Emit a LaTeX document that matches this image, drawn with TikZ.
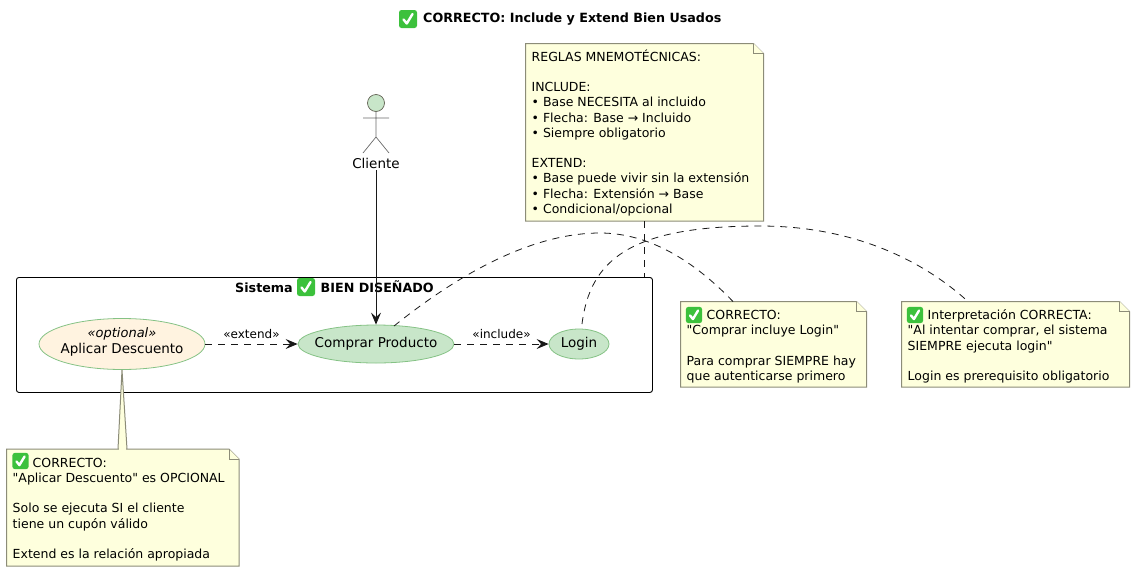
\documentclass[tikz,border=0pt]{standalone}
\usepackage{fontspec}
\setmainfont{DejaVu Sans}[Ligatures=TeXOff]
\usetikzlibrary{arrows.meta,calc,shapes.geometric}
\definecolor{okgreen}{HTML}{3CC13C}
\definecolor{notefill}{HTML}{FEFFDD}
\definecolor{noteline}{HTML}{8C8C78}
\definecolor{ucgreen}{HTML}{C8E6C9}
\definecolor{ucorange}{HTML}{FFF3E0}
\definecolor{ucline}{HTML}{85C285}
\definecolor{ink}{HTML}{181818}
\newcommand{\notesize}{\fontsize{12.5}{15.2}\selectfont}
\newcommand{\okgap}{\rule{0pt}{12pt}\hspace*{20pt}}
\newcommand{\notebox}[6]{%
  \node[notebg, minimum width=#4pt-#2pt, minimum height=#5pt-#3pt, anchor=north west] (#1) at (#2,#3) {};
  \draw[noteedge] (#1.north west) -- ($(#1.north east)+(-10pt,0)$) -- ($(#1.north east)+(0,-10pt)$) -- (#1.south east) -- (#1.south west) -- cycle;
  \draw[noteedge] ($(#1.north east)+(-10pt,0)$) -- ($(#1.north east)+(-10pt,-10pt)$) -- ($(#1.north east)+(0,-10pt)$);
  \node[notetext, anchor=north west] (#1t) at (#1.north west) {#6};
}
\tikzset{
  notebg/.style={inner sep=0pt, outer sep=0pt},
  noteedge/.style={draw=noteline, fill=notefill, line width=1pt, line join=miter},
  notetext/.style={align=left, inner xsep=6pt, inner ysep=6pt, text=black, font=\notesize},
  usecase/.style={ellipse, draw=ucline, fill=ucgreen, line width=0.8pt, inner sep=0pt, align=center, text=black, font=\fontsize{13.5}{15}\selectfont},
  relarrow/.style={draw=ink, line width=0.9pt, -{Stealth[length=12pt,width=10pt,inset=4.5pt]}},
  notelink/.style={draw=ink, line width=0.8pt, dash pattern=on 7pt off 6pt},
  rellabel/.style={font=\fontsize{12}{14}\selectfont, text=black, inner sep=0pt},
  boldline/.style={anchor=west, inner sep=0pt, font=\fontsize{12.7}{16}\selectfont\bfseries},
  okmark/.pic={
    \fill[okgreen, rounded corners=2.5pt] (-9,-9) rectangle (9,9);
    \draw[white, line width=2.4pt, line cap=round, line join=round] (-4.5,0.5) -- (-1.2,4.5) -- (4.5,-5);
  }
}
\begin{document}
\begin{tikzpicture}[x=1pt,y=-1pt]
\useasboundingbox (0,0) rectangle (1135,571);
% title
\node[boldline] (title) at (399,19) {\hspace*{24pt}CORRECTO: Include y Extend Bien Usados};
\pic at (408,19) {okmark};
% package
\node[draw=black, line width=0.9pt, rounded corners=2.5pt, minimum width=636pt, minimum height=115pt, inner sep=0pt, anchor=north west] (pkg) at (16,277) {};
\node[boldline] (pkgtitle) at (235,287) {Sistema\hspace*{28pt}BIEN DISEÑADO};
\pic at (306,287) {okmark};
% use cases
\node[usecase, fill=ucorange, minimum width=166pt, minimum height=51pt] (desc) at (122,344) {};
\node[font=\fontsize{13}{15}\selectfont\itshape, inner sep=0pt] (descster) at (122,333.5) {«optional»};
\node[font=\fontsize{13.5}{15}\selectfont, inner sep=0pt] (desclabel) at (122,350) {Aplicar Descuento};
\node[usecase, minimum width=156pt, minimum height=38pt] (comprar) at (376,344) {\makebox[0pt]{Comprar Producto}};
\node[usecase, minimum width=60pt, minimum height=30pt] (login) at (579,344) {\makebox[0pt]{Login}};
% actor
\draw[draw=noteline!70!black, line width=0.7pt, fill=ucgreen] (376,103) circle (8.5);
\coordinate (hip) at (376,137);
\draw[draw=ink!65, line width=0.7pt] (376,111.5) -- (hip) (363,118) -- (389,118) (363,153) -- (hip) -- (389,153);
\node[font=\fontsize{13.5}{15}\selectfont, inner sep=0pt] (cliente) at (376,163) {Cliente};
% notes
\notebox{nreglas}{525.5}{43.5}{763.5}{221}{REGLAS MNEMOTÉCNICAS:\\[15.2pt]INCLUDE:\\• Base NECESITA al incluido\\• Flecha: Base → Incluido\\• Siempre obligatorio\\[15.2pt]EXTEND:\\• Base puede vivir sin la extensión\\• Flecha: Extensión → Base\\• Condicional/opcional}
\notebox{nlogin}{680.5}{301.5}{866.5}{387}{\okgap CORRECTO:\\"Comprar incluye Login"\\[15.2pt]Para comprar SIEMPRE hay\\que autenticarse primero}
\pic[scale=0.9] at (694,315) {okmark};
\notebox{ninter}{901.5}{301.5}{1129.5}{387}{\okgap Interpretación CORRECTA:\\"Al intentar comprar, el sistema\\SIEMPRE ejecuta login"\\[15.2pt]Login es prerequisito obligatorio}
\pic[scale=0.9] at (915,315) {okmark};
% wedge note
\coordinate (wa) at (118,449);
\coordinate (wb) at (127,449);
\draw[noteedge] (wa) -- (desc.south) -- (wb);
\notebox{ndesc}{6.5}{449}{239}{566}{\okgap CORRECTO:\\"Aplicar Descuento" es OPCIONAL\\[15.2pt]Solo se ejecuta SI el cliente\\tiene un cupón válido\\[15.2pt]Extend es la relación apropiada}
\pic[scale=0.9] at (20.5,461) {okmark};
\fill[notefill] (118.7,448) rectangle (126.3,450);
% connectors
\draw[relarrow] (cliente.south) ++(0,2) -- (comprar.north);
\draw[relarrow, dash pattern=on 7pt off 6pt] (desc.east) -- node[rellabel, above=5pt] {«extend»} (comprar.west);
\draw[relarrow, dash pattern=on 7pt off 6pt] (comprar.east) -- node[rellabel, above=5pt] {«include»} (login.west);
\coordinate (pkgtop) at (644,277);
\draw[notelink] (nreglas.south -| pkgtop) -- (pkgtop);
\coordinate (comprarout) at (394,326);
\coordinate (loginout) at (582,324);
\coordinate (nloginin) at (733,301.5);
\coordinate (ninterin) at (968,301.5);
\draw[notelink] (comprarout) .. controls (470,265) and (540,233) .. (600,233) .. controls (650,233) and (695,262) .. (nloginin);
\draw[notelink] (loginout) .. controls (590,260) and (630,226) .. (760,226) .. controls (850,226) and (920,258) .. (ninterin);
\end{tikzpicture}
\end{document}
